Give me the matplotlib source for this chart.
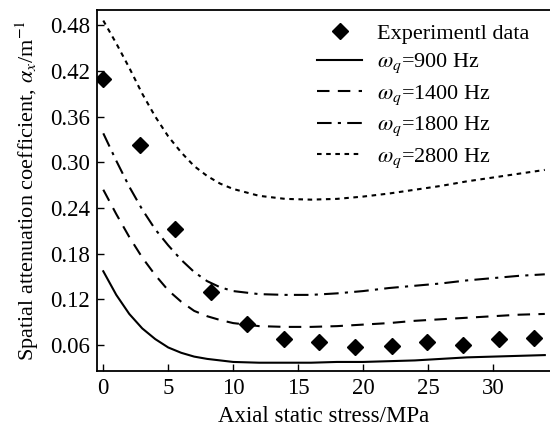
import matplotlib
matplotlib.use('Agg')
import matplotlib.pyplot as plt

plt.rcParams['font.family'] = ['Liberation Serif', 'DejaVu Serif']
plt.rcParams['mathtext.fontset'] = 'stix'

# experimental points
exp_x = [0, 2.8, 5.55, 8.3, 11.1, 13.9, 16.6, 19.4, 22.2, 24.95, 27.7, 30.5, 33.2]
exp_y = [0.409, 0.323, 0.213, 0.130, 0.088, 0.068, 0.064, 0.058, 0.059, 0.064, 0.060, 0.068, 0.070]

# model curves
curve_x = [0, 1, 2, 3, 4, 5, 6, 7, 8, 9, 10, 12, 14, 16, 18, 20, 22, 24, 26, 28, 30, 32, 34]
y_900 = [0.157, 0.126, 0.101, 0.082, 0.068, 0.057, 0.050, 0.045, 0.042, 0.040, 0.038, 0.037,
         0.037, 0.037, 0.038, 0.038, 0.039, 0.040, 0.042, 0.044, 0.045, 0.046, 0.047]
y_1400 = [0.264, 0.232, 0.202, 0.175, 0.152, 0.132, 0.117, 0.105, 0.098, 0.093, 0.089, 0.085,
          0.084, 0.084, 0.085, 0.087, 0.089, 0.092, 0.094, 0.096, 0.098, 0.100, 0.101]
y_1800 = [0.338, 0.302, 0.268, 0.238, 0.212, 0.191, 0.172, 0.156, 0.144, 0.136, 0.131, 0.127,
          0.126, 0.126, 0.128, 0.131, 0.135, 0.138, 0.141, 0.145, 0.148, 0.151, 0.153]
y_2800 = [0.486, 0.456, 0.424, 0.390, 0.360, 0.334, 0.313, 0.295, 0.282, 0.272, 0.265, 0.256,
          0.252, 0.251, 0.252, 0.255, 0.259, 0.264, 0.269, 0.275, 0.280, 0.285, 0.290]

xticks = [0, 5, 10, 15, 20, 25, 30]
yticks = [0.06, 0.12, 0.18, 0.24, 0.30, 0.36, 0.42, 0.48]

fig = plt.figure(figsize=(5.5, 4.3), dpi=100)
ax = fig.add_axes([0.176, 0.137, 0.824, 0.840])

ax.plot(exp_x, exp_y, 'D', color='black', ms=8, ls='none', label='Experimentl data')
ax.plot(curve_x, y_900, color='black', lw=1.5, ls='-', label=r'$\omega_q$=900 Hz')
ax.plot(curve_x, y_1400, color='black', lw=1.5, ls=(0, (6, 4)), label=r'$\omega_q$=1400 Hz')
ax.plot(curve_x, y_1800, color='black', lw=1.5, ls=(0, (7, 3, 1.5, 3)), label=r'$\omega_q$=1800 Hz')
ax.plot(curve_x, y_2800, color='black', lw=1.5, ls=(0, (2.2, 2.2)), label=r'$\omega_q$=2800 Hz')

ax.set_xlim(-0.5, 34.4)
ax.set_ylim(0.026, 0.500)
ax.set_xticks(xticks)
ax.set_yticks(yticks)
ax.set_yticklabels([f'{v:.2f}' for v in yticks])
ax.tick_params(direction='in', length=5, width=1, labelsize=16.5, pad=5)
ax.spines['right'].set_visible(False)
for s in ['left', 'bottom', 'top']:
    ax.spines[s].set_linewidth(1.3)

ax.set_xlabel('Axial static stress/MPa', fontsize=16.5, labelpad=5)
ax.set_ylabel(r'Spatial attenuation coefficient, $\alpha_x$/m$^{-1}$', fontsize=16, labelpad=6)

ax.legend(loc='upper right', frameon=False, fontsize=16, handlelength=2.0,
          handletextpad=0.7, labelspacing=0.36, borderaxespad=0.2,
          bbox_to_anchor=(0.985, 1.0))

fig.savefig('out.png', dpi=100)
